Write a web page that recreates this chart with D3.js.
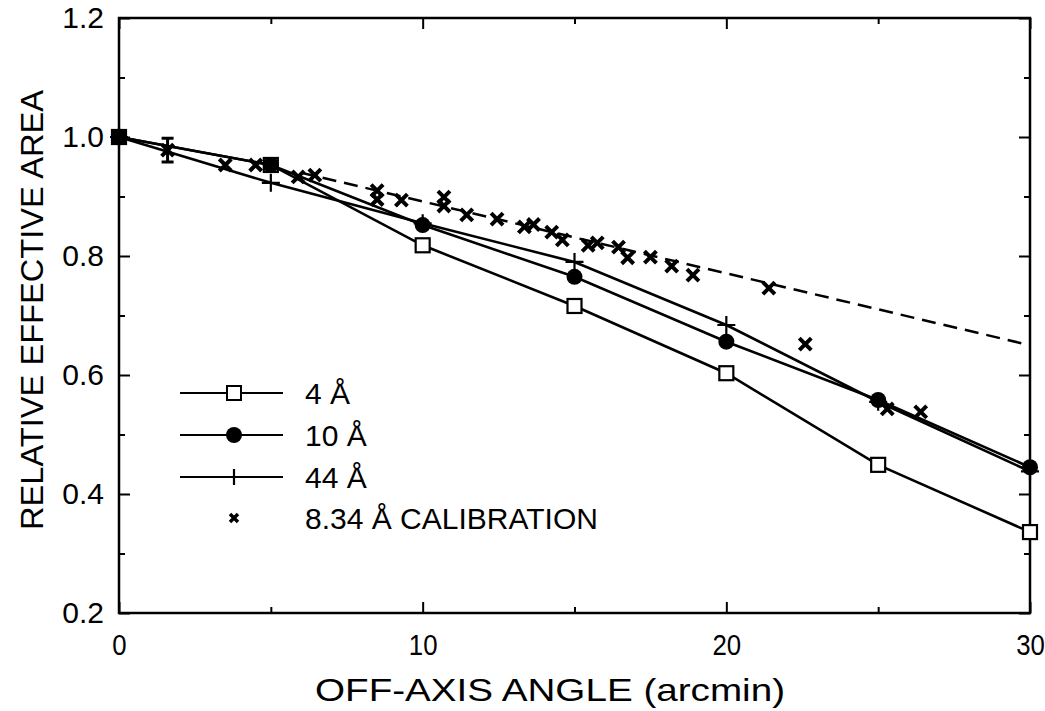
<!DOCTYPE html>
<html>
<head>
<meta charset="utf-8">
<script src="https://cdn.jsdelivr.net/npm/d3@7"></script>
<style>
body { margin: 0; background: #fff; }
text { font-family: "Liberation Sans", Arial, sans-serif; fill: #000; }
</style>
</head>
<body>
<div id="graphics"></div>
<script>
var width = 1045, height = 711;

// ray-trace curves
var angles = [0, 5, 10, 15, 20, 25, 30];
var area4 = [1.0, 0.953, 0.818, 0.716, 0.603, 0.449, 0.336];
var area10 = [1.0, 0.953, 0.852, 0.765, 0.656, 0.558, 0.445];
var area44 = [1.0, 0.923, 0.855, 0.790, 0.684, 0.555, 0.438];

// 8.34 A calibration points
var calAngle = [1.6, 3.5, 4.5, 5.9, 6.45, 8.5, 8.5, 9.3, 10.7, 10.7, 11.45, 12.45, 13.35, 13.65,
                14.25, 14.6, 15.45, 15.75, 16.45, 16.75, 17.5, 18.2, 18.9, 21.4, 22.6, 25.3, 26.4];
var calArea = [0.978, 0.953, 0.953, 0.933, 0.936, 0.910, 0.895, 0.894, 0.899, 0.884, 0.869, 0.862, 0.849, 0.853,
               0.840, 0.827, 0.818, 0.822, 0.815, 0.797, 0.798, 0.783, 0.768, 0.746, 0.652, 0.543, 0.538];
var errAngle = [1.6];
var errLow = [0.958];
var errHigh = [0.998];

// dashed fit through calibration
var fitAngle = [6.0, 30];
var fitArea = [0.940, 0.650];

var xMajor = [0, 10, 20, 30];
var xMinor = [5, 15, 25];
var yMajor = [0.2, 0.4, 0.6, 0.8, 1.0, 1.2];
var yMinor = [0.3, 0.5, 0.7, 0.9, 1.1];
var legendLabels = ["4 Å", "10 Å", "44 Å", "8.34 Å CALIBRATION"];

var svg = d3.select('#graphics')
            .append('svg')
            .attr('width', width)
            .attr('height', height);

var x = d3.scaleLinear().domain([0, 30]).range([119, 1030]);
var y = d3.scaleLinear().domain([0.2, 1.2]).range([613, 18]);

// axes with inward ticks
function axisG(axis, tx, ty) {
  var g = svg.append('g')
      .attr('transform', 'translate(' + [tx, ty] + ')')
      .call(axis);
  g.select('.domain').remove();
  g.selectAll('line').attr('stroke', '#000').attr('stroke-width', 2);
  g.selectAll('text').style('font-size', '30px').attr('fill', '#000');
  return g;
}
var xAxis = axisG(d3.axisBottom(x).tickValues(xMajor).tickSize(-11).tickPadding(21).tickFormat(d3.format('d')), 0, 613);
// narrow glyphs like the original lettering
xAxis.selectAll('text').attr('transform', 'scale(0.86,1)');
axisG(d3.axisBottom(x).tickValues(xMinor).tickSize(-6).tickFormat(''), 0, 613);
axisG(d3.axisTop(x).tickValues(xMajor).tickSize(-11).tickFormat(''), 0, 18);
axisG(d3.axisTop(x).tickValues(xMinor).tickSize(-6).tickFormat(''), 0, 18);
axisG(d3.axisLeft(y).tickValues(yMajor).tickSize(-11).tickPadding(15).tickFormat(d3.format('.1f')), 119, 0);
axisG(d3.axisLeft(y).tickValues(yMinor).tickSize(-6).tickFormat(''), 119, 0);
axisG(d3.axisRight(y).tickValues(yMajor).tickSize(-11).tickFormat(''), 1030, 0);
axisG(d3.axisRight(y).tickValues(yMinor).tickSize(-6).tickFormat(''), 1030, 0);

svg.append('rect')
   .attr('x', x(0)).attr('y', y(1.2))
   .attr('width', x(30) - x(0)).attr('height', y(0.2) - y(1.2))
   .attr('fill', 'none').attr('stroke', '#000').attr('stroke-width', 2.5);

svg.append('text')
   .attr('x', 550).attr('y', 701)
   .attr('text-anchor', 'middle')
   .attr('textLength', 470).attr('lengthAdjust', 'spacingAndGlyphs')
   .style('font-size', '32px')
   .text('OFF-AXIS ANGLE (arcmin)');

svg.append('text')
   .attr('transform', 'translate(43,310) rotate(-90)')
   .attr('text-anchor', 'middle')
   .attr('textLength', 440).attr('lengthAdjust', 'spacingAndGlyphs')
   .style('font-size', '32px')
   .text('RELATIVE EFFECTIVE AREA');

var line = d3.line().x(d => x(d[0])).y(d => y(d[1]));

// dashed fit
svg.append('path')
   .attr('d', line(d3.zip(fitAngle, fitArea)))
   .attr('fill', 'none').attr('stroke', '#000')
   .attr('stroke-width', 2.5).attr('stroke-dasharray', '14,8');

var series = [area4, area10, area44];
series.forEach(function(s) {
  svg.append('path')
     .attr('d', line(d3.zip(angles, s)))
     .attr('fill', 'none').attr('stroke', '#000').attr('stroke-width', 2.6);
});

function xMark(g, cx, cy, r, w) {
  g.append('path')
   .attr('d', 'M' + (cx - r) + ' ' + (cy - r) + 'L' + (cx + r) + ' ' + (cy + r) +
              'M' + (cx - r) + ' ' + (cy + r) + 'L' + (cx + r) + ' ' + (cy - r))
   .attr('stroke', '#000').attr('stroke-width', w).attr('fill', 'none');
}
function plusMark(g, cx, cy, r) {
  g.append('path')
   .attr('d', 'M' + (cx - r) + ' ' + cy + 'L' + (cx + r) + ' ' + cy +
              'M' + cx + ' ' + (cy - r) + 'L' + cx + ' ' + (cy + r))
   .attr('stroke', '#000').attr('stroke-width', 2.2).attr('fill', 'none');
}

// calibration markers
var cal = svg.append('g');
d3.zip(calAngle, calArea).forEach(function(d) {
  xMark(cal, x(d[0]), y(d[1]), 6, 4);
});
d3.zip(errAngle, errLow, errHigh).forEach(function(d) {
  cal.append('path')
     .attr('d', 'M' + x(d[0]) + ' ' + y(d[1]) + 'L' + x(d[0]) + ' ' + y(d[2]) +
                'M' + (x(d[0]) - 6) + ' ' + y(d[1]) + 'L' + (x(d[0]) + 6) + ' ' + y(d[1]) +
                'M' + (x(d[0]) - 6) + ' ' + y(d[2]) + 'L' + (x(d[0]) + 6) + ' ' + y(d[2]))
     .attr('stroke', '#000').attr('stroke-width', 3).attr('fill', 'none');
});

// 44 A plus markers
var p44 = svg.append('g');
d3.zip(angles, area44).forEach(function(d) {
  plusMark(p44, x(d[0]), y(d[1]), 9);
});

// 4 A open squares
svg.selectAll('rect.sq')
   .data(d3.zip(angles, area4)).enter().append('rect')
   .attr('class', 'sq')
   .attr('x', d => x(d[0]) - 7).attr('y', d => y(d[1]) - 7)
   .attr('width', 14).attr('height', 14)
   .attr('fill', '#fff').attr('stroke', '#000').attr('stroke-width', 2.2);

// 10 A filled circles
svg.selectAll('circle.dot')
   .data(d3.zip(angles, area10)).enter().append('circle')
   .attr('class', 'dot')
   .attr('cx', d => x(d[0])).attr('cy', d => y(d[1]))
   .attr('r', 8).attr('fill', '#000');

// overlap at origin drawn solid
svg.append('rect')
   .attr('x', x(angles[0]) - 7).attr('y', y(area4[0]) - 7)
   .attr('width', 15).attr('height', 15).attr('fill', '#000');

// legend
var legend = svg.selectAll('g.leg')
    .data(legendLabels).enter().append('g')
    .attr('class', 'leg')
    .attr('transform', function(d, i) {
      var ly = [393, 435, 477, 518][i];
      return 'translate(' + [180, ly] + ')';
    });
legend.filter((d, i) => i < 3).append('line')
    .attr('x1', 0).attr('x2', 103).attr('y1', 0).attr('y2', 0)
    .attr('stroke', '#000').attr('stroke-width', 2);
legend.filter((d, i) => i == 0).append('rect')
    .attr('x', 47).attr('y', -7).attr('width', 14).attr('height', 14)
    .attr('fill', '#fff').attr('stroke', '#000').attr('stroke-width', 2);
legend.filter((d, i) => i == 1).append('circle')
    .attr('cx', 54).attr('cy', 0).attr('r', 8).attr('fill', '#000');
legend.filter((d, i) => i == 2).each(function() { plusMark(d3.select(this), 54, 0, 8); });
legend.filter((d, i) => i == 3).each(function() { xMark(d3.select(this), 54, 0, 4, 3.5); });
legend.append('text')
    .attr('x', 125).attr('dy', '0.36em')
    .style('font-size', '30px')
    .text(d => d);
</script>
</body>
</html>
